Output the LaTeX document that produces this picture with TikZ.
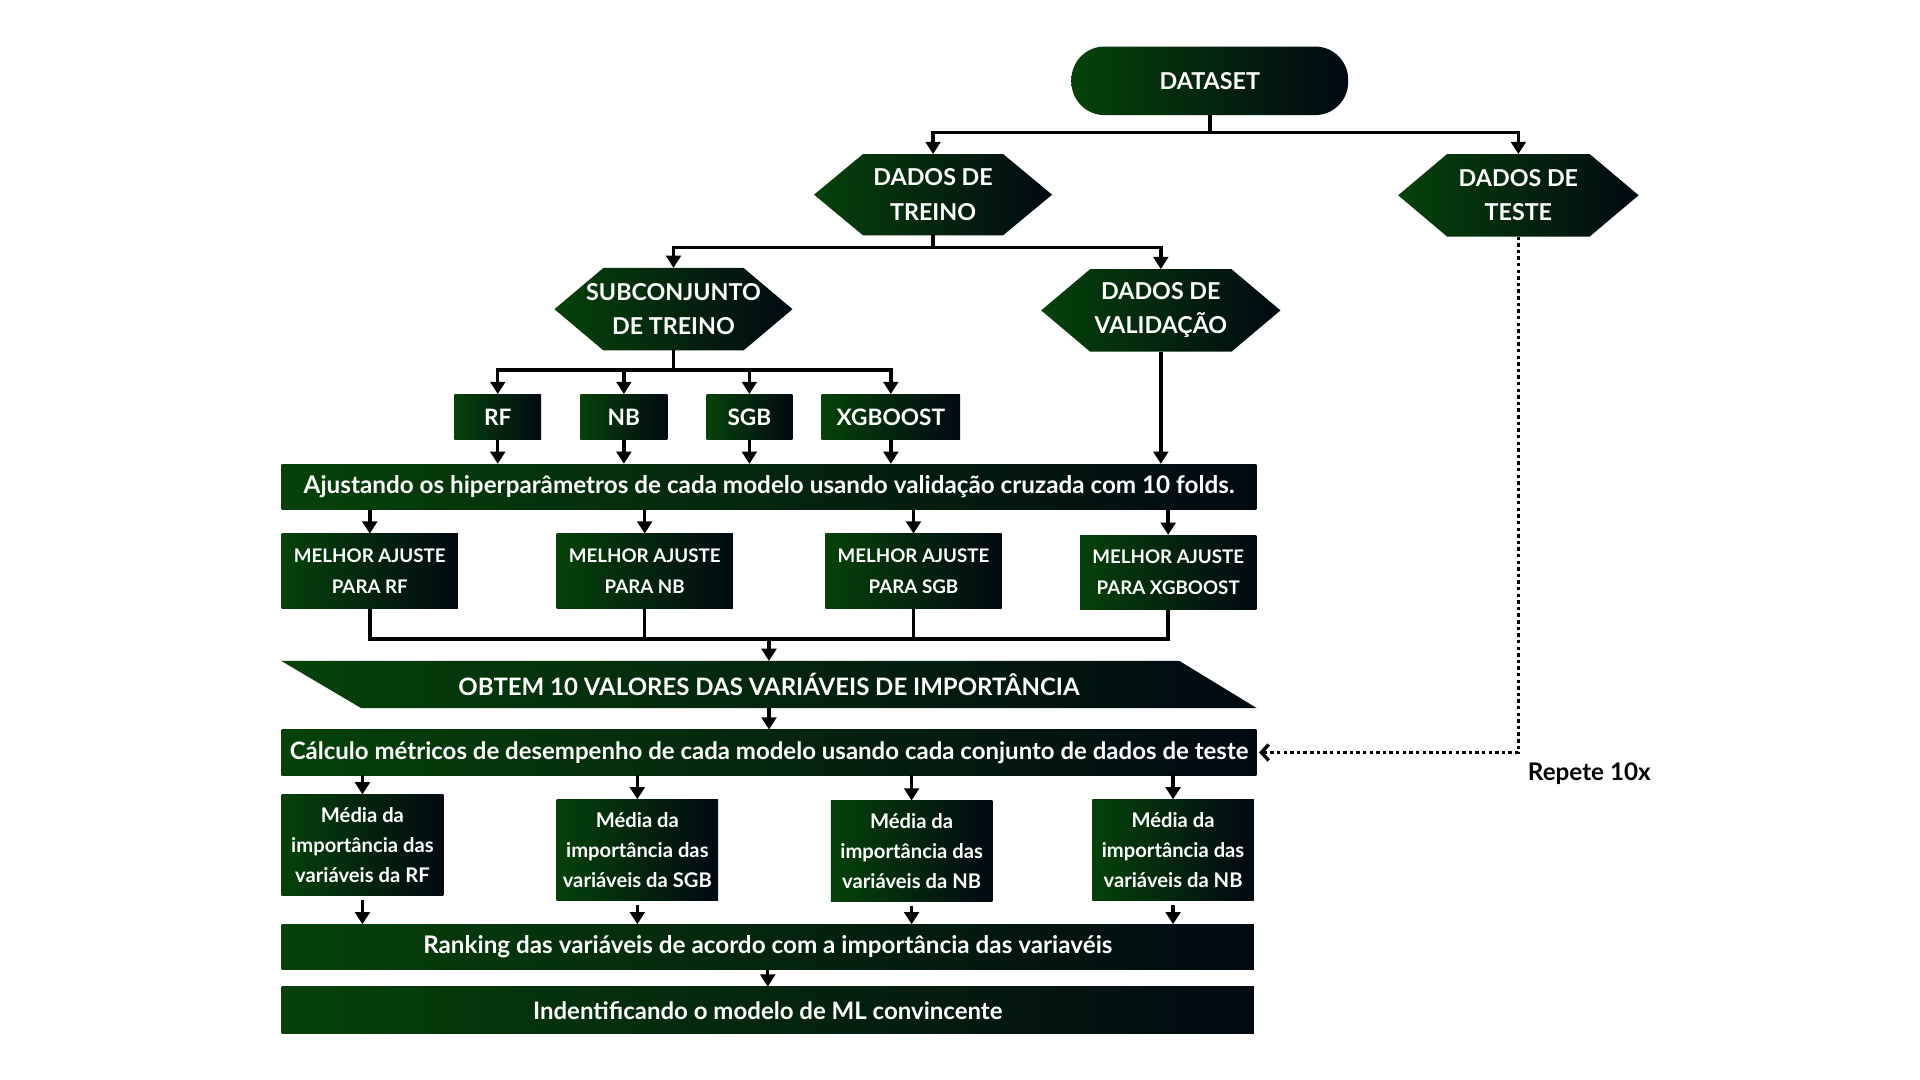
\documentclass[tikz,border=0pt]{standalone}
\usepackage{fontspec}
\setmainfont{Lato}
\usetikzlibrary{arrows.meta}
\definecolor{gL}{RGB}{5,66,9}
\definecolor{gR}{RGB}{2,9,18}
\pgfdeclarelayer{background}
\pgfdeclarelayer{paper}
\pgfsetlayers{paper,background,main}
\tikzset{
  fz/.style={font=\bfseries\fontsize{#1}{#1}\selectfont},
  gbox/.style={inner sep=0pt, text=white, left color=gL, right color=gR, align=center},
  anchorbox/.style={inner sep=0pt, text=white, align=center},
  ln/.style={line width=2.8pt, black},
  arr/.style={ln, -{Triangle[length=10pt,width=12pt]}},
  dotline/.style={line width=2.8pt, black, dash pattern=on 2.8pt off 2.6pt,
    -{Straight Barb[length=6pt,width=13pt,line width=2.8pt]}},
}
\newcommand\hexfill[1]{%
  \begin{pgfonlayer}{background}
    \shade[left color=gL, right color=gR] (#1.west) -- ([xshift=40pt]#1.north west) -- ([xshift=-40pt]#1.north east)
      -- (#1.east) -- ([xshift=-40pt]#1.south east) -- ([xshift=40pt]#1.south west) -- cycle;
  \end{pgfonlayer}}
\begin{document}
\begin{tikzpicture}[x=1pt,y=-1pt]
\useasboundingbox (0,0) rectangle (1568,882);
\begin{pgfonlayer}{paper}
  \fill[white] (0,0) rectangle (1568,882);
\end{pgfonlayer}

% top of the flow
\node[gbox, fz=19, minimum width=226pt, minimum height=56pt, rounded corners=27pt] (dataset) at (988,66) {DATASET};

\tikzset{hexa/.style={anchorbox, font=\bfseries\fontsize{19}{28}\selectfont}}
\node[hexa, minimum width=194pt, minimum height=66pt] (treino) at (762,159) {DADOS DE\\TREINO};
\hexfill{treino}
\node[hexa, minimum width=196pt, minimum height=67pt] (teste) at (1240,159.5) {DADOS DE\\TESTE};
\hexfill{teste}
\node[hexa, minimum width=194pt, minimum height=67pt] (sub) at (550,252.5) {SUBCONJUNTO\\DE TREINO};
\hexfill{sub}
\node[hexa, minimum width=195pt, minimum height=67pt] (val) at (948,253.5) {DADOS DE\\VALIDAÇÃO};
\hexfill{val}

% models
\node[gbox, fz=18.5, minimum width=71pt, minimum height=37pt] (rf) at (406.5,340.5) {RF};
\node[gbox, fz=18.5, minimum width=71pt, minimum height=37pt] (nb) at (509.5,340.5) {NB};
\node[gbox, fz=18.5, minimum width=70pt, minimum height=37pt] (sgb) at (612,340.5) {SGB};
\node[gbox, fz=18.5, minimum width=113pt, minimum height=37pt] (xgb) at (727.5,340.5) {XGBOOST};

\node[gbox, fz=19.8, minimum width=796pt, minimum height=37pt] (bar) at (628,397.5) {Ajustando os hiperparâmetros de cada modelo usando validação cruzada com 10 folds.};

% best fits
\tikzset{melhor/.style={gbox, minimum width=144pt, minimum height=61pt, font=\bfseries\fontsize{15.3}{25}\selectfont}}
\node[melhor] (m1) at (302,466.5) {MELHOR AJUSTE\\PARA RF};
\node[melhor] (m2) at (526.5,466.5) {MELHOR AJUSTE\\PARA NB};
\node[melhor] (m3) at (746,466.5) {MELHOR AJUSTE\\PARA SGB};
\node[melhor] (m4) at (954,467.5) {MELHOR AJUSTE\\PARA XGBOOST};

\node[anchorbox, fz=19.6, minimum width=796pt, minimum height=38pt] (obtem) at (628,559) {OBTEM 10 VALORES DAS VARIÁVEIS DE IMPORTÂNCIA};
\begin{pgfonlayer}{background}
  \shade[left color=gL, right color=gR] (obtem.north west) -- ([xshift=-63pt]obtem.north east) -- (obtem.south east) -- ([xshift=65pt]obtem.south west) -- cycle;
\end{pgfonlayer}

\node[gbox, fz=19.6, minimum width=796pt, minimum height=37pt] (calc) at (628,614.5) {Cálculo métricos de desempenho de cada modelo usando cada conjunto de dados de teste};

% averages
\tikzset{media/.style={gbox, minimum width=132pt, minimum height=82pt, font=\bfseries\fontsize{16.5}{24.5}\selectfont}}
\node[media] (a1) at (296,690) {Média da\\importância das\\variáveis da RF};
\node[media] (a2) at (520.5,694) {Média da\\importância das\\variáveis da SGB};
\node[media] (a3) at (744.5,695) {Média da\\importância das\\variáveis da NB};
\node[media] (a4) at (958,694) {Média da\\importância das\\variáveis da NB};

\node[gbox, fz=19.8, minimum width=794pt, minimum height=37pt] (rank) at (627,773.5) {Ranking das variáveis de acordo com a importância das variavéis};
\node[gbox, fz=19.6, minimum width=794pt, minimum height=38pt] (ident) at (627,825) {Indentificando o modelo de ML convincente};

\node[fz=19.8, text=black, inner sep=0pt] (rep) at (1298,632) {Repete 10x};

% connectors
\draw[ln] (dataset.south) -- ++(0,14) coordinate (j1);
\draw[arr] (j1) -| (treino.north);
\draw[arr] (j1) -| (teste.north);

\draw[ln] (treino.south) -- ++(0,10) coordinate (j2);
\draw[arr] (j2) -| (sub.north);
\draw[arr] (j2) -| (val.north);

\draw[ln] (sub.south) -- ++(0,16) coordinate (j3);
\draw[arr] (j3) -| (rf.north);
\draw[arr] (j3) -| (nb.north);
\draw[arr] (j3) -| (sgb.north);
\draw[arr] (j3) -| (xgb.north);

\foreach \n in {rf,nb,sgb,xgb,val}
  \draw[arr] (\n.south) -- (\n.south |- bar.north);
\foreach \n in {m1,m2,m3,m4}
  \draw[arr] (\n.north |- bar.south) -- (\n.north);

\coordinate (j4) at (obtem.north |- 0,522);
\draw[ln] (m1.south) |- (j4) -| (m4.south);
\draw[ln] (m2.south) -- (m2.south |- j4);
\draw[ln] (m3.south) -- (m3.south |- j4);
\draw[arr] (j4) -- (obtem.north);

\draw[arr] (obtem.south) -- (calc.north);
\foreach \n in {a1,a2,a3,a4}
  \draw[arr] (\n.north |- calc.south) -- (\n.north);
\foreach \n in {a1,a2,a3,a4}
  \draw[arr, shorten <=4pt] (\n.south) -- (\n.south |- rank.north);
\draw[arr] (rank.south) -- (ident.north);

\draw[dotline] (teste.south) |- ([xshift=2pt]calc.east);
\end{tikzpicture}
\end{document}
